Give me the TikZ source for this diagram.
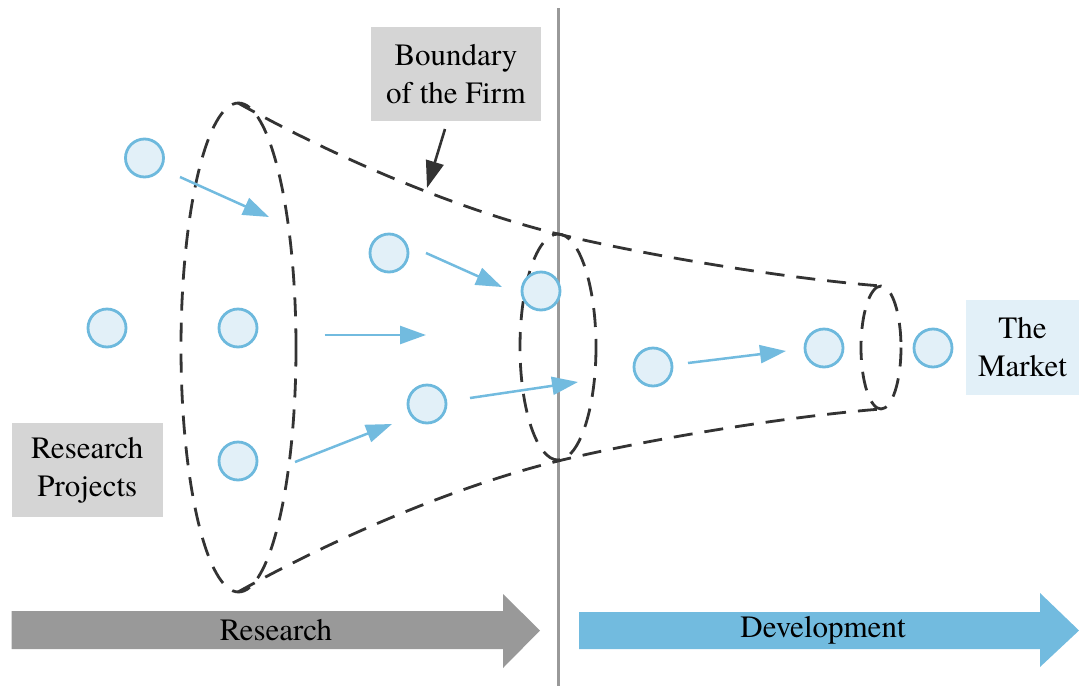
\documentclass[tikz,border=0pt]{standalone}
\usepackage{fontspec}
\setmainfont{TeX Gyre Termes}
\usetikzlibrary{arrows.meta}
\definecolor{projfill}{HTML}{E2F0F8}
\definecolor{projline}{HTML}{6DB9DD}
\definecolor{flowblue}{HTML}{72BBDF}
\definecolor{boxgray}{HTML}{D5D5D5}
\definecolor{bandgray}{HTML}{999999}
\definecolor{inkdark}{HTML}{333333}
\tikzset{
  project/.style={circle, draw=projline, fill=projfill, line width=2.8pt, minimum size=38pt, inner sep=0pt},
  flow/.style={draw=flowblue, line width=2.5pt, -{Triangle[length=26pt,width=18pt]}},
  edge/.style={draw=inkdark, line width=2.8pt, dash pattern=on 19pt off 12pt},
  label/.style={fill=boxgray, inner sep=0pt, align=center, font=\fontsize{31}{38}\selectfont},
  bandtext/.style={font=\fontsize{31}{38}\selectfont, inner sep=0pt}
}
\begin{document}
\begin{tikzpicture}[x=1pt,y=-1pt]
\useasboundingbox (0,0) rectangle (1079,686);

% divider between research and development
\draw[bandgray, line width=2.2pt] (558.5,8) -- (558.5,686);

% funnel cross-sections
\draw[edge] (238.5,347.5) ellipse [x radius=57.5, y radius=244.5];
\draw[edge] (558,347) ellipse [x radius=38, y radius=113];
\draw[edge] (881,347.5) ellipse [x radius=20, y radius=61.5];

% funnel walls
\draw[edge] (238,103) .. controls (340,160) and (460,210) .. (558,234)
                      .. controls (640,254) and (780,278) .. (881,286);
\draw[edge] (238,592) .. controls (340,535) and (460,485) .. (558,461)
                      .. controls (640,441) and (780,417) .. (881,409);

% labels
\node[label, minimum width=170pt, minimum height=94pt] (firm) at (456,74) {Boundary\\of the Firm};
\node[label, minimum width=151.5pt, minimum height=94pt] (rp) at (87.25,470) {Research\\Projects};
\node[label, fill=projfill, minimum width=113pt, minimum height=95pt] (market) at (1022.5,347.5) {The\\Market};

\coordinate (firmtip) at (427,188);
\draw[draw=inkdark, line width=2.6pt, -{Triangle[length=27pt,width=18pt]}] (445,129) -- (firmtip);

% projects
\node[project] (p1) at (144.5,158) {};
\node[project] (p2) at (107,328) {};
\node[project] (p3) at (238,328) {};
\node[project] (p4) at (238,461) {};
\node[project] (p5) at (389,253) {};
\node[project] (p6) at (427,404) {};
\node[project] (p7) at (541,291) {};
\node[project] (p8) at (653,367) {};
\node[project] (p9) at (824,348) {};
\node[project] (p10) at (933,348) {};

% progress of projects through the funnel
\coordinate (a1s) at (180,177);   \coordinate (a1e) at (269,217);
\coordinate (a2s) at (426,253);   \coordinate (a2e) at (502,287);
\coordinate (a3s) at (324.5,335); \coordinate (a3e) at (426,335);
\coordinate (a4s) at (295,462);   \coordinate (a4e) at (392,424);
\coordinate (a5s) at (470,398);   \coordinate (a5e) at (578,382);
\coordinate (a6s) at (688,363);   \coordinate (a6e) at (786,351);
\draw[flow] (a1s) -- (a1e);
\draw[flow] (a2s) -- (a2e);
\draw[flow] (a3s) -- (a3e);
\draw[flow] (a4s) -- (a4e);
\draw[flow] (a5s) -- (a5e);
\draw[flow] (a6s) -- (a6e);

% phase bands
\fill[bandgray] (11.5,611) -- (503,611) -- (503,594) -- (540,630.5) -- (503,668) -- (503,649) -- (11.5,649) -- cycle;
\node[bandtext] (research) at (276,630) {Research};
\fill[flowblue] (579,612) -- (1040,612) -- (1040,593) -- (1079,630.5) -- (1040,667) -- (1040,649) -- (579,649) -- cycle;
\node[bandtext] (development) at (823,630) {Development};
\end{tikzpicture}
\end{document}
